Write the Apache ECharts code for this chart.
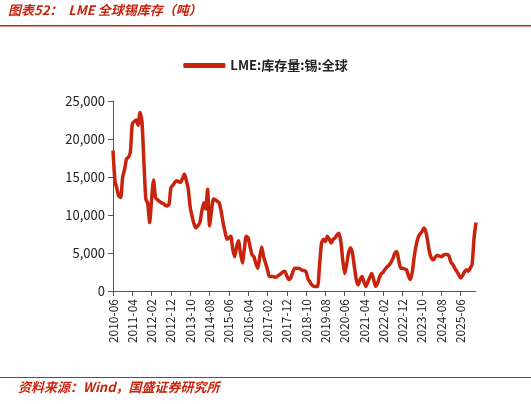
<!DOCTYPE html>
<html><head><meta charset="utf-8">
<script src="https://cdn.jsdelivr.net/npm/echarts@6/dist/echarts.min.js"></script>
<style>html,body{margin:0;padding:0;background:#fff}#c{width:531px;height:404px}</style>
</head><body><div id="c"></div>
<script>
const startYear = 2010, startMonth = 6, monthCount = 189;
const seriesName = 'LME:库存量:锡:全球';
const stockK = [
18.5,14.5,13.5,12.5,12.3,15,16,17.4,17.6,18.3,
22,22.3,22.5,21.8,23.5,22.3,17,12.1,11.5,9.0,
12.1,14.6,12.3,12.0,11.8,11.6,11.5,11.3,11.2,11.4,
13.6,13.9,14.3,14.5,14.4,14.3,14.8,15.4,14.5,13.4,
11,9.8,8.8,8.3,8.6,9.0,10.5,11.6,10.8,13.4,
8.6,10.5,12.1,12.0,11.8,11.6,10.5,9.0,7.8,6.8,
7.0,7.2,5.5,4.5,5.8,6.6,5.0,3.7,5.5,7.2,
7.0,5.8,4.8,4.5,3.6,3.0,4.5,5.8,4.5,3.7,
2.8,1.9,1.9,1.9,1.8,1.9,2.1,2.3,2.5,2.6,
2.0,1.5,1.7,2.4,3.0,3.0,3.0,2.9,2.7,2.7,
2.5,1.6,1.2,0.8,0.6,0.6,0.6,3.5,6.3,6.8,
6.5,7.2,6.8,6.3,6.8,7.0,7.4,7.6,6.5,4.0,
2.3,3.5,5.0,5.7,5.0,3.2,1.5,0.8,1.5,1.9,
1.2,0.6,1.2,1.8,2.3,1.5,0.6,1.0,1.8,2.3,
2.5,2.9,3.2,3.4,3.8,4.3,5.0,5.2,4.0,3.0,
3.0,2.9,2.8,2.0,1.5,2.5,4.5,6.0,7.0,7.5,
7.8,8.3,7.8,6.5,5.0,4.3,4.1,4.5,4.7,4.6,
4.5,4.7,4.8,4.8,4.6,3.8,3.5,3.0,2.6,2.2,
1.7,2.0,2.5,2.8,2.6,3.0,3.5,7.0,9.0
];
const months = [];
for (let i = 0; i < monthCount; i++) {
  const t = (startMonth - 1) + i;
  const y = startYear + Math.floor(t / 12), m = t % 12 + 1;
  months.push(y + '-' + (m < 10 ? '0' + m : m));
}
const values = stockK.map(v => Math.round(v * 1000));
const red = '#c8230c';
const chart = echarts.init(document.getElementById('c'));
chart.setOption({
  animation: false,
  textStyle: { fontFamily: 'Noto Sans CJK SC' },
  graphic: [
    { type: 'text', left: 8, top: 4, style: { text: '图表52：  LME 全球锡库存（吨）', fill: red, font: 'italic bold 13px "Noto Sans CJK SC"' } },
    { type: 'rect', shape: { x: 0, y: 25, width: 531, height: 1.5 }, style: { fill: red } },
    { type: 'rect', shape: { x: 0, y: 377, width: 531, height: 1 }, style: { fill: red } },
    { type: 'text', left: 18, top: 381, style: { text: '资料来源：Wind，国盛证券研究所', fill: red, font: 'italic bold 13px "Noto Sans CJK SC"' } }
  ],
  legend: { top: 54, left: 'center', icon: 'roundRect', itemWidth: 42, itemHeight: 5, textStyle: { fontSize: 13, color: '#222', fontWeight: 'bold' }, data: [seriesName] },
  grid: { left: 113, right: 55, top: 101, bottom: 113 },
  xAxis: {
    type: 'category', data: months, boundaryGap: false,
    axisLine: { lineStyle: { color: '#555' } },
    axisTick: { interval: 9, lineStyle: { color: '#555' } },
    axisLabel: { interval: 9, rotate: 90, fontSize: 12, color: '#222' }
  },
  yAxis: {
    type: 'value', min: 0, max: 25000, interval: 5000,
    splitLine: { show: false },
    axisLine: { show: true, lineStyle: { color: '#555' } },
    axisTick: { show: true, lineStyle: { color: '#555' } },
    axisLabel: { fontSize: 13, color: '#222', formatter: v => v.toLocaleString('en-US') }
  },
  series: [{ name: seriesName, type: 'line', data: values, showSymbol: false, smooth: 0.2, lineStyle: { color: red, width: 3.5 }, itemStyle: { color: red } }]
});
</script></body></html>
